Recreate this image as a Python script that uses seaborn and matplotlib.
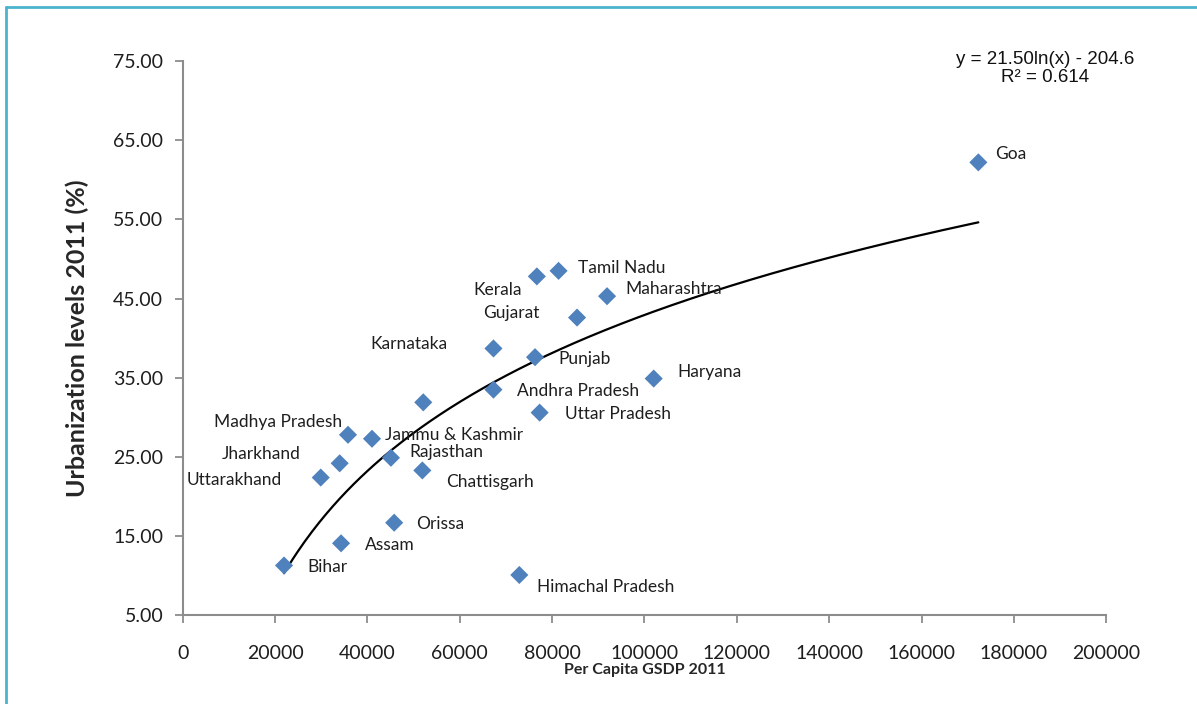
import numpy as np
import pandas as pd
import matplotlib
matplotlib.use("Agg")
import matplotlib.pyplot as plt
from matplotlib.lines import Line2D
import seaborn as sns

# Per capita GSDP (Rs) and urbanization share (%) by state, 2011
states = ["Bihar", "Assam", "Orissa", "Uttarakhand", "Jharkhand", "Madhya Pradesh",
          "Jammu & Kashmir", "Rajasthan", "Chattisgarh", "", "Himachal Pradesh",
          "Andhra Pradesh", "Uttar Pradesh", "Karnataka", "Punjab", "Gujarat",
          "Maharashtra", "Kerala", "Tamil Nadu", "Haryana", "Goa"]
gsdp = [21950, 34300, 45800, 29900, 34000, 35800,
        41000, 45100, 51900, 52100, 72900,
        67300, 77300, 67300, 76300, 85400,
        91900, 76700, 81400, 102000, 172300]
urban = [11.3, 14.1, 16.7, 22.4, 24.2, 27.8,
         27.3, 24.9, 23.3, 31.9, 10.1,
         33.5, 30.6, 38.7, 37.6, 42.6,
         45.3, 47.8, 48.5, 34.9, 62.2]

# Logarithmic trend fitted to the state points
coef_a, coef_b, r_squared = 21.50, -204.6, 0.614

# Label placement relative to each point (offset in points, horizontal alignment)
label_offsets = {
    "Bihar": ((17, -1), "left"),
    "Assam": ((17, -1), "left"),
    "Orissa": ((16, -1), "left"),
    "Uttarakhand": ((-28, -2), "right"),
    "Jharkhand": ((-28, 7), "right"),
    "Madhya Pradesh": ((-4, 9), "right"),
    "Jammu & Kashmir": ((9, 3), "left"),
    "Rajasthan": ((13, 4), "left"),
    "Chattisgarh": ((17, -8), "left"),
    "Himachal Pradesh": ((13, -9), "left"),
    "Andhra Pradesh": ((17, -1), "left"),
    "Uttar Pradesh": ((18, -1), "left"),
    "Karnataka": ((-33, 3), "right"),
    "Punjab": ((17, -1), "left"),
    "Gujarat": ((-27, 3), "right"),
    "Maharashtra": ((13, 5), "left"),
    "Kerala": ((-11, -10), "right"),
    "Tamil Nadu": ((14, 2), "left"),
    "Haryana": ((17, 5), "left"),
    "Goa": ((12, 6), "left"),
}

df = pd.DataFrame({"state": states, "gsdp": gsdp, "urban": urban})

sns.set_theme(style="white")
plt.rcParams["font.family"] = ["Lato", "DejaVu Sans"]

fig = plt.figure(figsize=(11.97, 7.04), dpi=100)
ax = fig.add_axes([0.1526, 0.1259, 0.7716, 0.7875])

blue = "#4f81bd"
sns.scatterplot(data=df, x="gsdp", y="urban", marker="D", s=85, color=blue,
                edgecolor="none", ax=ax, zorder=3)

trend_x = np.linspace(min(gsdp), max(gsdp), 300)
trend = pd.DataFrame({"gsdp": trend_x, "urban": coef_a * np.log(trend_x) + coef_b})
sns.lineplot(data=trend, x="gsdp", y="urban", color="black", linewidth=1.6, ax=ax, zorder=2)

for name, x, y in zip(states, gsdp, urban):
    if not name:
        continue
    (dx, dy), ha = label_offsets[name]
    ax.annotate(name, (x, y), xytext=(dx, dy), textcoords="offset points",
                ha=ha, va="center", fontsize=12.5, color="#1e1e1e")

ax.set_xlim(0, 200000)
ax.set_ylim(5, 75)
ax.set_xticks(np.arange(0, 200001, 20000))
ax.set_yticks(np.arange(5, 76, 10))
ax.set_xticklabels([f"{v:d}" for v in range(0, 200001, 20000)])
ax.set_yticklabels([f"{v:.2f}" for v in np.arange(5, 76, 10)])
ax.tick_params(axis="both", which="major", direction="out", length=6, width=1.3,
               color="#8c8c8c", labelsize=14, labelcolor="#1e1e1e", pad=8,
               left=True, bottom=True)
ax.tick_params(axis="x", pad=15)

for side in ("top", "right"):
    ax.spines[side].set_visible(False)
for side in ("left", "bottom"):
    ax.spines[side].set_color("#8c8c8c")
    ax.spines[side].set_linewidth(1.5)

ax.set_xlabel("Per Capita GSDP 2011", fontsize=11.5, fontweight="bold", labelpad=1)
ax.set_ylabel("Urbanization levels 2011 (%)", fontsize=18, fontweight="bold", labelpad=17)

eq_text = f"y = {coef_a:.2f}ln(x) - {abs(coef_b):.1f}\nR² = {r_squared:.3f}"
fig.text(0.873, 0.903, eq_text, ha="center", va="center", fontsize=13.5,
         family=["Liberation Sans", "DejaVu Sans"], color="#111111", linespacing=1.1)

# Frame around the figure panel
frame_color = "#4bb3cc"
fig.add_artist(Line2D([0.005, 0.005], [0.0, 0.99], transform=fig.transFigure,
                      color=frame_color, linewidth=2))
fig.add_artist(Line2D([0.005, 1.0], [0.99, 0.99], transform=fig.transFigure,
                      color=frame_color, linewidth=2))

fig.savefig("out.png", dpi=100, facecolor="white")
